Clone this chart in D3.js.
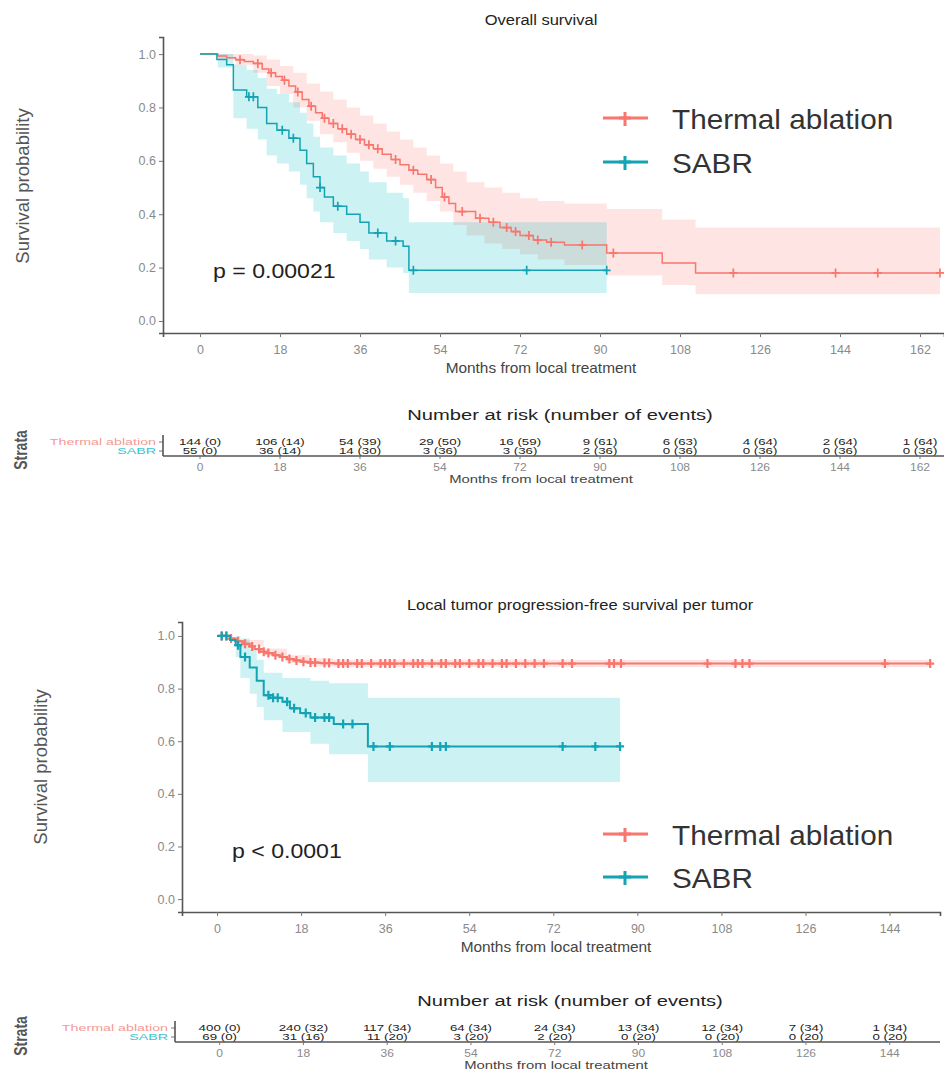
<!DOCTYPE html>
<html>
<meta charset="utf-8" />
<script src="https://d3js.org/d3.v7.min.js"></script>
<style>
  body { margin: 0; background: #fff; }
  svg text { font-family: "Liberation Sans", Arial, sans-serif; }
</style>
<body>
<div id="chart"></div>
<script>
// ---- values ----
var groups = ["Thermal ablation", "SABR"];
var colors = ["#F8766D", "#14a3b4"];
var bandColors = ["#F8766D", "#00BFC4"];

var yTicks = [0, 0.2, 0.4, 0.6, 0.8, 1.0];
var osTicks = [0, 18, 36, 54, 72, 90, 108, 126, 144, 162];
var ltpTicks = [0, 18, 36, 54, 72, 90, 108, 126, 144];

// overall survival, thermal ablation
var osTaTime = [0, 4, 6, 8, 10, 12, 14, 15.5, 17, 18.5, 20, 21.5, 23, 24.5, 26, 27.5, 29, 31, 33, 35, 37, 39, 41, 43, 45, 47, 49, 51, 53, 54.5, 56, 57.5, 62, 65, 67.5, 70, 72, 75, 78, 82, 91.5, 104, 111.5];
var osTaSurv = [1.0, 0.993, 0.986, 0.979, 0.972, 0.965, 0.944, 0.93, 0.916, 0.902, 0.88, 0.858, 0.83, 0.805, 0.78, 0.76, 0.74, 0.72, 0.70, 0.68, 0.66, 0.645, 0.625, 0.605, 0.585, 0.565, 0.55, 0.53, 0.50, 0.465, 0.44, 0.41, 0.385, 0.37, 0.35, 0.335, 0.32, 0.303, 0.295, 0.285, 0.255, 0.217, 0.18];
var osTaCens = [9, 13, 16, 19, 22, 25, 28, 30, 32, 34, 36, 38, 40, 44, 48, 52, 55, 59, 63, 66, 69, 71, 74, 76, 79, 86, 93, 120, 143, 152.5, 166.5];
var osTaEnd = 166.5;
var osTaCiTime = [0, 4, 8, 12, 15, 18, 21, 24, 27, 30, 33, 36, 39, 42, 45, 48, 51, 54, 57, 60, 64, 68, 72, 76, 82, 91.5, 104, 111.5];
var osTaLower = [1.0, 0.98, 0.96, 0.93, 0.88, 0.85, 0.80, 0.75, 0.70, 0.67, 0.63, 0.60, 0.57, 0.54, 0.51, 0.48, 0.45, 0.41, 0.36, 0.32, 0.29, 0.27, 0.25, 0.23, 0.21, 0.17, 0.135, 0.10];
var osTaUpper = [1.0, 1.0, 1.0, 0.995, 0.98, 0.955, 0.93, 0.89, 0.86, 0.83, 0.80, 0.77, 0.74, 0.71, 0.68, 0.65, 0.62, 0.59, 0.56, 0.52, 0.50, 0.48, 0.46, 0.45, 0.44, 0.42, 0.38, 0.35];

// overall survival, SABR
var osSabrTime = [0, 3.8, 6, 7.5, 10.5, 13, 15, 17.3, 20, 22.5, 24, 25.5, 27, 28, 30, 33, 36, 38, 42, 45.7, 47];
var osSabrSurv = [1.0, 0.98, 0.96, 0.865, 0.84, 0.80, 0.74, 0.715, 0.685, 0.64, 0.59, 0.54, 0.50, 0.465, 0.43, 0.40, 0.37, 0.33, 0.30, 0.28, 0.19];
var osSabrCens = [11, 12, 18.5, 21, 27, 31, 40, 44, 48, 73.5, 91.5];
var osSabrEnd = 91.5;
var osSabrCiTime = [0, 4, 7.5, 10.5, 13, 15, 17.3, 20, 22.5, 24, 25.5, 27, 30, 33, 36, 38, 42, 45.7, 47];
var osSabrLower = [1.0, 0.95, 0.76, 0.72, 0.68, 0.62, 0.59, 0.56, 0.51, 0.46, 0.41, 0.37, 0.33, 0.30, 0.27, 0.23, 0.20, 0.18, 0.105];
var osSabrUpper = [1.0, 1.0, 0.96, 0.94, 0.91, 0.87, 0.85, 0.82, 0.78, 0.74, 0.69, 0.65, 0.62, 0.59, 0.56, 0.52, 0.48, 0.46, 0.37];

// local tumor progression-free, thermal ablation
var ltpTaTime = [0, 2.8, 4, 5.6, 7, 8, 9.2, 10.5, 12, 13.5, 15, 16.5, 18, 19.5, 22, 25];
var ltpTaSurv = [1.0, 0.99, 0.98, 0.97, 0.96, 0.95, 0.94, 0.935, 0.927, 0.92, 0.912, 0.907, 0.902, 0.899, 0.897, 0.895];
var ltpTaCens = [1, 2, 3, 4.5, 6, 7.5, 9, 10, 11, 12.5, 14, 15.5, 17, 18.5, 20, 21, 23, 24, 26, 27, 28, 30, 31, 33, 35, 36, 37, 38, 40, 42, 43, 44, 46, 48, 49, 51, 52, 54, 56, 57, 59, 61, 62, 64, 66, 68, 70, 74, 76, 84, 85, 86.5, 105, 111, 112.5, 114, 143, 152.7];
var ltpTaEnd = 152.7;
var ltpTaCiTime = [0, 5, 10, 15, 20, 25];
var ltpTaLower = [1.0, 0.96, 0.925, 0.897, 0.885, 0.882];
var ltpTaUpper = [1.0, 0.985, 0.952, 0.927, 0.915, 0.91];

// local tumor progression-free, SABR
var ltpSabrTime = [0, 2.8, 4, 5, 7, 8.5, 10, 11.3, 14, 15.6, 17.8, 20, 25, 32.3];
var ltpSabrSurv = [1.0, 0.985, 0.965, 0.92, 0.88, 0.83, 0.775, 0.765, 0.75, 0.725, 0.707, 0.69, 0.665, 0.58];
var ltpSabrCens = [1, 2, 4.5, 6, 11, 12, 13, 15, 16.5, 19, 21, 23, 24, 27, 29, 33.5, 37, 46, 47.8, 49, 74, 81, 86.3];
var ltpSabrEnd = 86.3;
var ltpSabrCiTime = [0, 4, 5, 7, 8.5, 10, 14, 20, 24, 32.3];
var ltpSabrLower = [1.0, 0.92, 0.84, 0.78, 0.73, 0.68, 0.635, 0.59, 0.55, 0.445];
var ltpSabrUpper = [1.0, 1.0, 0.99, 0.95, 0.91, 0.86, 0.84, 0.83, 0.82, 0.765];

// number at risk (number of events)
var osRiskTa = ["144 (0)", "106 (14)", "54 (39)", "29 (50)", "16 (59)", "9 (61)", "6 (63)", "4 (64)", "2 (64)", "1 (64)"];
var osRiskSabr = ["55 (0)", "36 (14)", "14 (30)", "3 (36)", "3 (36)", "2 (36)", "0 (36)", "0 (36)", "0 (36)", "0 (36)"];
var ltpRiskTa = ["400 (0)", "240 (32)", "117 (34)", "64 (34)", "24 (34)", "13 (34)", "12 (34)", "7 (34)", "1 (34)"];
var ltpRiskSabr = ["69 (0)", "31 (16)", "11 (20)", "3 (20)", "2 (20)", "0 (20)", "0 (20)", "0 (20)", "0 (20)"];

// ---- drawing ----
var svg = d3.select("#chart").append("svg")
  .attr("width", 944).attr("height", 1090);

function label(g, x, y, s, size, sx, opts) {
  opts = opts || {};
  var t = g.append("text")
    .attr("transform", "translate(" + x + "," + y + ") scale(" + sx + ",1)" + (opts.rotate ? " rotate(-90)" : ""))
    .attr("font-size", size)
    .attr("fill", opts.fill || "#333")
    .attr("text-anchor", opts.anchor || "start")
    .text(s);
  if (opts.weight) t.attr("font-weight", opts.weight);
  return t;
}

function zipSteps(time, surv, end) {
  var pts = time.map(function(t, i) { return [t, surv[i]]; });
  if (end != null) pts.push([end, surv[surv.length - 1]]);
  return pts;
}

function survAt(time, surv, t) {
  var s = surv[0];
  for (var i = 0; i < time.length; i++) if (time[i] <= t) s = surv[i];
  return s;
}

var cross = "M-4,0H4M0,-4.5V4.5";

function kmPlot(c) {
  var g = svg.append("g");
  var x = d3.scaleLinear().domain(c.xDomain).range(c.xRange);
  var y = d3.scaleLinear().domain(c.yDomain).range(c.yRange);

  // confidence bands
  c.series.forEach(function(s, i) {
    var pts = s.ciTime.map(function(t, k) { return [t, s.lower[k], s.upper[k]]; });
    pts.push([s.end, s.lower[s.lower.length - 1], s.upper[s.upper.length - 1]]);
    g.append("path").datum(pts)
      .attr("fill", bandColors[i]).attr("fill-opacity", 0.2)
      .attr("d", d3.area().curve(d3.curveStepAfter)
        .x(function(d) { return x(d[0]); })
        .y0(function(d) { return y(d[1]); })
        .y1(function(d) { return y(d[2]); }));
  });

  // curves and censor marks
  c.series.forEach(function(s, i) {
    g.append("path").datum(zipSteps(s.time, s.surv, s.end))
      .attr("fill", "none").attr("stroke", colors[i]).attr("stroke-width", c.lw)
      .attr("d", d3.line().curve(d3.curveStepAfter)
        .x(function(d) { return x(d[0]); })
        .y(function(d) { return y(d[1]); }));
    g.append("g").selectAll("path").data(s.cens).enter().append("path")
      .attr("d", cross)
      .attr("transform", function(t) { return "translate(" + x(t) + "," + y(survAt(s.time, s.surv, t)) + ")"; })
      .attr("stroke", colors[i]).attr("stroke-width", c.lw + 0.2).attr("fill", "none");
  });

  // axes
  var xa = g.append("g").attr("transform", "translate(0," + c.yRange[0] + ")")
    .call(d3.axisBottom(x).tickValues(c.ticks).tickSizeOuter(0).tickSize(4).tickFormat(d3.format("d")));
  var ya = g.append("g").attr("transform", "translate(" + c.xRange[0] + ",0)")
    .call(d3.axisLeft(y).tickValues(yTicks).tickSizeOuter(0).tickSize(4).tickFormat(d3.format(".1f")));
  [xa, ya].forEach(function(a) {
    a.select(".domain").attr("stroke", "#555").attr("stroke-width", 1.6);
    a.selectAll(".tick line").attr("stroke", "#777");
    a.selectAll(".tick text").attr("fill", "#8a8a8a").attr("font-size", 12.5)
      .attr("font-family", "Liberation Sans, Arial, sans-serif");
  });
  xa.selectAll(".tick text").attr("dy", "1.1em");

  label(g, c.titleX, c.titleY, c.title, 15, 1.1, { anchor: "middle", fill: "#222" });
  label(g, c.xTitleX, c.yRange[0] + 40, "Months from local treatment", 14, 1.1, { anchor: "middle", fill: "#444" });
  label(g, c.yTitleX, c.yTitleY, "Survival probability", 18.5, 1.0, { anchor: "middle", fill: "#555", rotate: true });
  label(g, c.pX, c.pY, c.pText, 21, 1.1, { fill: "#222" });

  // legend
  c.series.forEach(function(s, i) {
    var ly = c.legendY[i];
    g.append("line").attr("x1", 603).attr("x2", 648).attr("y1", ly).attr("y2", ly)
      .attr("stroke", colors[i]).attr("stroke-width", 3);
    g.append("path").attr("d", "M-6,0H6M0,-6V8").attr("transform", "translate(625," + ly + ")")
      .attr("stroke", colors[i]).attr("stroke-width", 3);
    label(g, 672, ly + 11, groups[i], 27, 1.1, { fill: "#333" });
  });
}

function riskTable(c) {
  var g = svg.append("g");
  var x = d3.scaleLinear().domain(c.xDomain).range(c.xRange);
  label(g, c.titleX, c.top, "Number at risk (number of events)", 15.5, 1.3, { anchor: "middle", fill: "#222" });
  var rows = [c.ta, c.sabr];
  rows.forEach(function(r, i) {
    var by = c.top + 25 + i * 9;
    g.selectAll(null).data(r).enter().append("text")
      .attr("transform", function(d, k) { return "translate(" + x(c.ticks[k]) + "," + by + ") scale(1.4,1)"; })
      .attr("text-anchor", "middle").attr("font-size", 9.5).attr("fill", "#222")
      .text(function(d) { return d; });
    label(g, c.xRange[0] - 7, by, groups[i], 9.5, 1.5, { anchor: "end", fill: i === 0 ? "#f39a94" : "#3cc3d0" });
    g.append("line").attr("x1", c.xRange[0] - 4).attr("x2", c.xRange[0])
      .attr("y1", by - 3).attr("y2", by - 3).attr("stroke", "#777");
  });
  var lineY = c.top + 36;
  g.append("line").attr("x1", c.xRange[0]).attr("x2", c.xRange[1]).attr("y1", lineY).attr("y2", lineY)
    .attr("stroke", "#555").attr("stroke-width", 1.6);
  g.append("line").attr("x1", c.xRange[0]).attr("x2", c.xRange[0]).attr("y1", c.top + 15).attr("y2", lineY)
    .attr("stroke", "#555").attr("stroke-width", 1.6);
  g.selectAll(null).data(c.ticks).enter().append("line")
    .attr("x1", function(d) { return x(d); }).attr("x2", function(d) { return x(d); })
    .attr("y1", lineY).attr("y2", lineY + 3).attr("stroke", "#777");
  g.selectAll(null).data(c.ticks).enter().append("text")
    .attr("transform", function(d) { return "translate(" + x(d) + "," + (lineY + 15) + ") scale(1.2,1)"; })
    .attr("text-anchor", "middle").attr("font-size", 10).attr("fill", "#8a8a8a")
    .text(function(d) { return d; });
  label(g, c.axisTitleX, lineY + 27, "Months from local treatment", 11, 1.35, { anchor: "middle", fill: "#444" });
  label(g, 27, c.top + 30, "Strata", 14, 1.3, { anchor: "middle", fill: "#555", rotate: true, weight: "bold" });
}

kmPlot({
  title: "Overall survival", titleX: 541, titleY: 25,
  xDomain: [-8.33, 167.4], xRange: [163, 944],
  yDomain: [-0.045, 1.064], yRange: [333, 37],
  ticks: osTicks, lw: 1.5,
  xTitleX: 541, yTitleX: 29, yTitleY: 186,
  pText: "p = 0.00021", pX: 213, pY: 278,
  legendY: [118, 162],
  series: [
    { time: osTaTime, surv: osTaSurv, cens: osTaCens, end: osTaEnd, ciTime: osTaCiTime, lower: osTaLower, upper: osTaUpper },
    { time: osSabrTime, surv: osSabrSurv, cens: osSabrCens, end: osSabrEnd, ciTime: osSabrCiTime, lower: osSabrLower, upper: osSabrUpper }
  ]
});

riskTable({
  top: 420, titleX: 560, axisTitleX: 541,
  xDomain: [-8.33, 167.4], xRange: [163, 944],
  ticks: osTicks, ta: osRiskTa, sabr: osRiskSabr
});

kmPlot({
  title: "Local tumor progression-free survival per tumor", titleX: 580, titleY: 610,
  xDomain: [-7.5, 154.8], xRange: [182, 940],
  yDomain: [-0.049, 1.053], yRange: [912, 622],
  ticks: ltpTicks, lw: 2,
  xTitleX: 556, yTitleX: 47, yTitleY: 767,
  pText: "p < 0.0001", pX: 232, pY: 858,
  legendY: [834, 877],
  series: [
    { time: ltpTaTime, surv: ltpTaSurv, cens: ltpTaCens, end: ltpTaEnd, ciTime: ltpTaCiTime, lower: ltpTaLower, upper: ltpTaUpper },
    { time: ltpSabrTime, surv: ltpSabrSurv, cens: ltpSabrCens, end: ltpSabrEnd, ciTime: ltpSabrCiTime, lower: ltpSabrLower, upper: ltpSabrUpper }
  ]
});

riskTable({
  top: 1006, titleX: 570, axisTitleX: 556,
  xDomain: [-9.6, 154.8], xRange: [175, 940],
  ticks: ltpTicks, ta: ltpRiskTa, sabr: ltpRiskSabr
});
</script>
</body>
</html>
